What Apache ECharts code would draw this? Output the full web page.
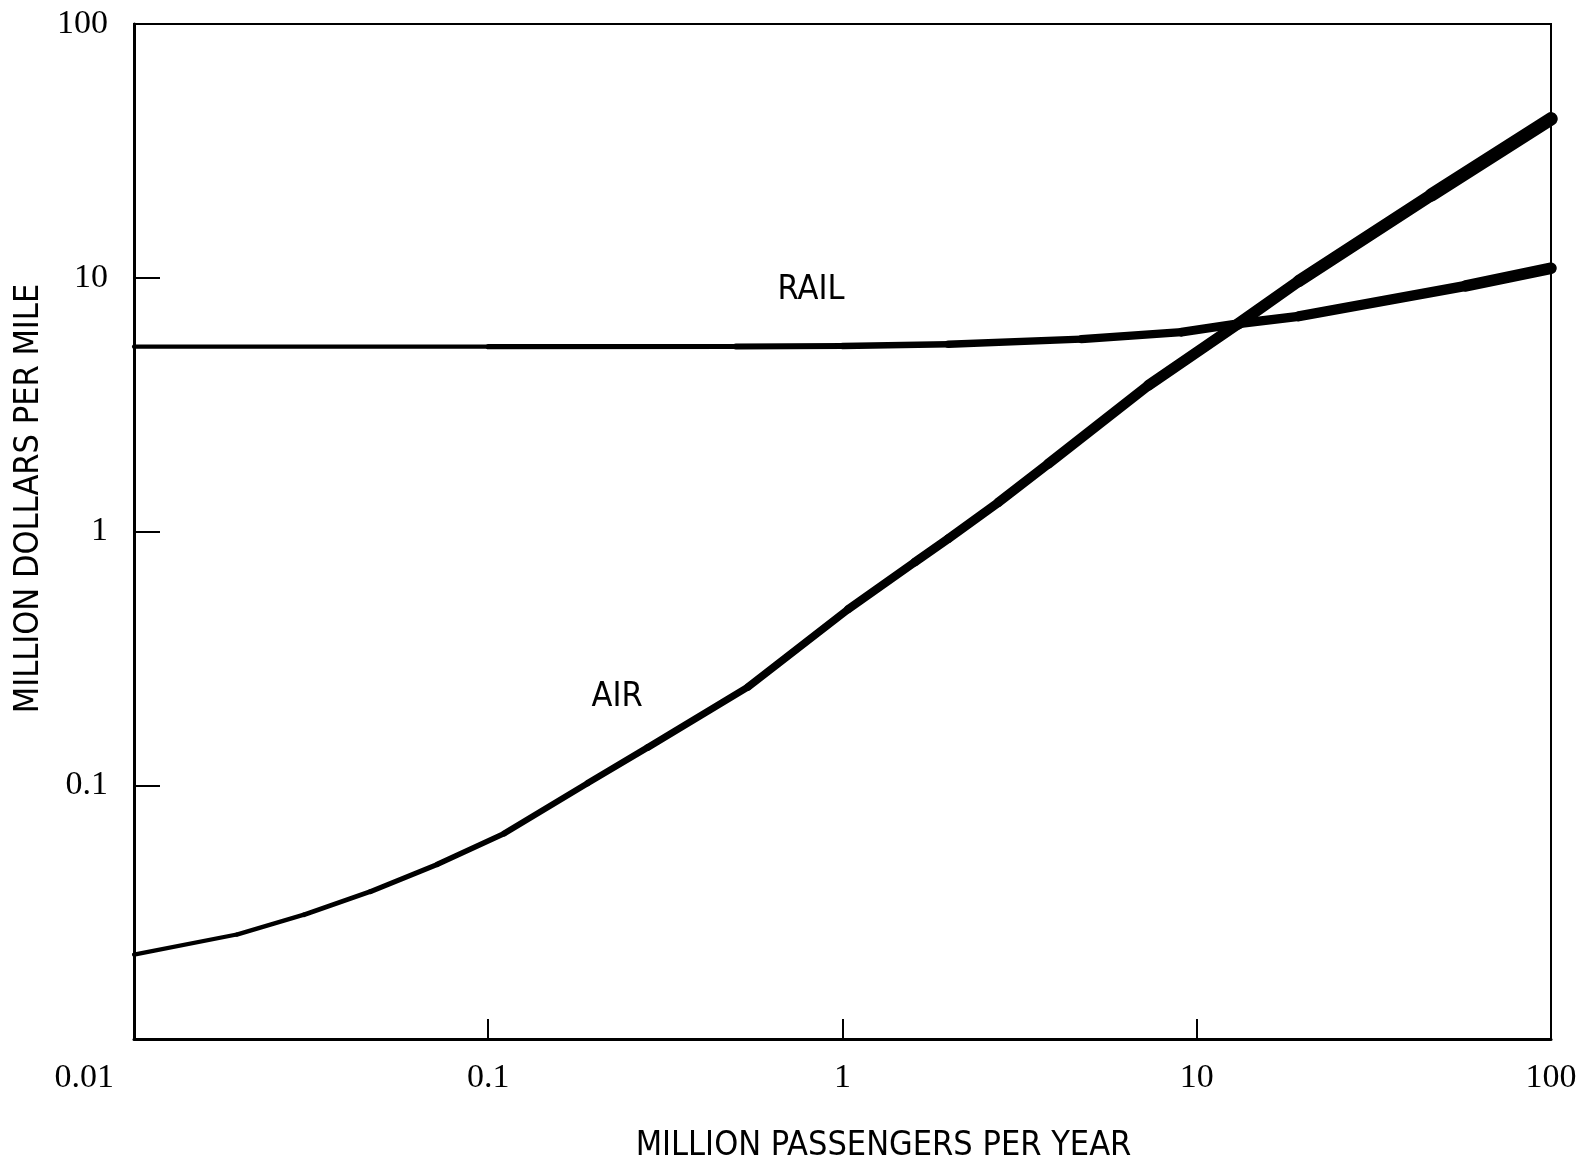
<!DOCTYPE html>
<html>
<head>
<meta charset="utf-8">
<script src="https://cdn.jsdelivr.net/npm/echarts@6/dist/echarts.min.js"></script>
<style>
  html, body { margin: 0; padding: 0; background: #fff; }
  #chart { width: 1585px; height: 1168px; }
</style>
</head>
<body>
<div id="chart"></div>
<script>
// ---- data ----
const xTickLabels = ['0.01', '0.1', '1', '10', '100'];
const yTickLabels = ['0.01', '0.1', '1', '10', '100'];

const airX = [0.01, 0.0195, 0.0302, 0.0465, 0.0719, 0.111, 0.191, 0.282, 0.541, 1.036, 1.6, 1.99, 2.75, 3.81, 7.31, 13.1, 19.4, 46, 100];
const airY = [0.0215, 0.0258, 0.0309, 0.0381, 0.0488, 0.0646, 0.102, 0.141, 0.244, 0.493, 0.757, 0.938, 1.30, 1.85, 3.77, 6.59, 9.7, 21.2, 42.3];

const railX = [0.01, 0.1, 0.5, 1, 1.99, 4.72, 9.06, 13.1, 19.4, 57.5, 100];
const railY = [5.35, 5.35, 5.36, 5.38, 5.47, 5.73, 6.10, 6.59, 7.05, 9.29, 10.9];

const xAxisTitle = 'MILLION PASSENGERS PER YEAR';
const yAxisTitle = 'MILLION DOLLARS PER MILE';
const railName = 'RAIL';
const airName = 'AIR';

// ---- build ----
function pairs(xs, ys) { return xs.map((x, i) => [x, ys[i]]); }

// The pen stroke thickens from left to right in the original drawing:
// draw each curve as consecutive pieces whose stroke width grows along the x axis.
function strokePieces(name, xs, ys, w0, w1, power) {
  const pts = pairs(xs, ys);
  const lx0 = Math.log10(xs[0]), lx1 = Math.log10(xs[xs.length - 1]);
  const out = [];
  for (let i = 0; i < pts.length - 1; i++) {
    const mid = (Math.log10(xs[i]) + Math.log10(xs[i + 1])) / 2;
    const t = (mid - lx0) / (lx1 - lx0);
    out.push({
      name: name,
      type: 'line',
      data: [pts[i], pts[i + 1]],
      symbol: 'none',
      clip: true,
      silent: true,
      lineStyle: { color: '#000', width: w0 + (w1 - w0) * Math.pow(t, power), cap: 'round', join: 'round' },
      z: 3
    });
  }
  return out;
}

const tickFont = { fontFamily: 'Liberation Serif', fontSize: 34, color: '#000' };
const titleFamily = "'Liberation Sans Narrow', 'DejaVu Sans Condensed', 'Liberation Sans', sans-serif";
const titleFont = { fontFamily: titleFamily, fontSize: 34, color: '#000' };

function decadeIndex(v) { return Math.round(Math.log10(v)) + 2; }

const railSeries = strokePieces(railName, railX, railY, 4, 12, 1.8);
const airSeries = strokePieces(airName, airX, airY, 4, 14, 1.3);

railSeries[0].markPoint = {
  symbol: 'circle', symbolSize: 0, silent: true,
  label: { show: true, position: 'inside', formatter: railName, fontFamily: titleFamily, fontSize: 34, color: '#000' },
  data: [{ coord: [0.815, 8.95] }]
};
airSeries[0].markPoint = {
  symbol: 'circle', symbolSize: 0, silent: true,
  label: { show: true, position: 'inside', formatter: airName, fontFamily: titleFamily, fontSize: 34, color: '#000' },
  data: [{ coord: [0.231, 0.222] }]
};

const chart = echarts.init(document.getElementById('chart'), null, { renderer: 'canvas' });
chart.setOption({
  animation: false,
  backgroundColor: '#fff',
  grid: {
    left: 134, right: 34, top: 24, bottom: 128,
    show: true, borderColor: '#000', borderWidth: 2, backgroundColor: 'transparent'
  },
  xAxis: {
    type: 'log', logBase: 10, min: 0.01, max: 100, splitNumber: 4,
    name: xAxisTitle, nameLocation: 'middle', nameGap: 90,
    nameTextStyle: Object.assign({}, titleFont, { padding: [0, 0, 0, 82] }),
    axisLine: { show: true, lineStyle: { color: '#000', width: 3 } },
    axisTick: { show: true, inside: true, length: 20, lineStyle: { color: '#000', width: 2 } },
    minorTick: { show: false },
    splitLine: { show: false },
    axisLabel: Object.assign({}, tickFont, {
      margin: 22,
      alignMinLabel: 'right',
      formatter: function (v) {
        const i = decadeIndex(v);
        return i === 0 ? '{m|' + xTickLabels[i] + '}' : xTickLabels[i];
      },
      rich: { m: Object.assign({}, tickFont, { padding: [0, 20, 0, 0] }) }
    })
  },
  yAxis: {
    type: 'log', logBase: 10, min: 0.01, max: 100, splitNumber: 4,
    name: yAxisTitle, nameLocation: 'middle', nameGap: 78,
    nameTextStyle: Object.assign({}, titleFont, { padding: [0, 0, 0, 66] }),
    axisLine: { show: true, lineStyle: { color: '#000', width: 3 } },
    axisTick: { show: true, inside: true, length: 26, lineStyle: { color: '#000', width: 2 } },
    minorTick: { show: false },
    splitLine: { show: false },
    axisLabel: Object.assign({}, tickFont, {
      margin: 26,
      showMinLabel: false,
      formatter: function (v) { return yTickLabels[decadeIndex(v)]; }
    })
  },
  series: railSeries.concat(airSeries)
});
</script>
</body>
</html>
